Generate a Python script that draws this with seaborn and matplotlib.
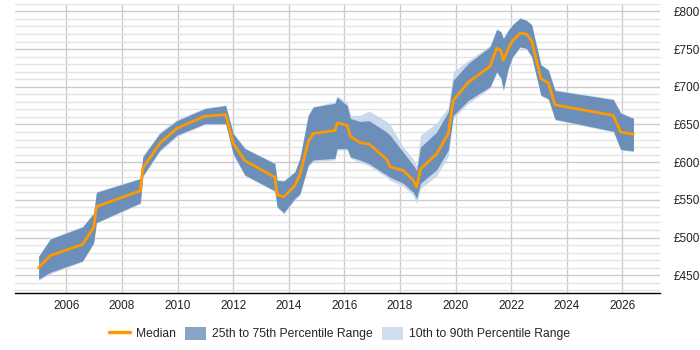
import numpy as np
import pandas as pd
import seaborn as sns
import matplotlib.pyplot as plt
from matplotlib.lines import Line2D
from matplotlib.patches import Patch
from matplotlib.ticker import MultipleLocator, FuncFormatter

# data (decimal years, GBP)
years = [2005.00, 2005.42, 2006.58, 2006.98, 2007.08, 2008.66, 2008.75, 2009.36,
         2009.98, 2010.98, 2011.73, 2012.00, 2012.42, 2013.50, 2013.58, 2013.82,
         2014.22, 2014.40, 2014.70, 2014.88, 2015.66, 2015.74, 2016.10, 2016.22,
         2016.56, 2016.89, 2017.52, 2017.64, 2018.12, 2018.48, 2018.60, 2018.74,
         2019.32, 2019.74, 2019.92, 2020.46, 2021.24, 2021.48, 2021.63, 2021.72,
         2021.90, 2022.05, 2022.32, 2022.55, 2022.74, 2023.07, 2023.34, 2023.58,
         2025.68, 2025.94, 2026.40]
median = [460, 476, 491, 513, 541, 562, 592, 625,
          645, 661, 663, 625, 602, 580, 557, 554,
          569, 583, 627, 638, 642, 652, 649, 634,
          626, 624, 604, 594, 589, 576, 567, 591,
          611, 638, 682, 706, 727, 751, 748, 735,
          751, 761, 771, 770, 761, 711, 705, 676,
          662, 640, 637]
p25 = [445, 454, 469, 493, 520, 546, 582, 616,
       636, 651, 651, 611, 583, 562, 541, 533,
       552, 558, 596, 603, 605, 618, 618, 607,
       603, 598, 583, 580, 572, 560, 552, 572,
       590, 616, 662, 682, 700, 720, 712, 696,
       725, 740, 753, 751, 740, 689, 684, 657,
       641, 617, 615]
p75 = [475, 498, 514, 532, 560, 578, 607, 638,
       655, 671, 675, 638, 618, 598, 576, 575,
       587, 605, 662, 673, 678, 686, 675, 658,
       654, 655, 640, 636, 613, 596, 589, 620,
       640, 667, 709, 731, 753, 776, 773, 764,
       775, 782, 791, 788, 782, 729, 722, 695,
       683, 665, 658]
p10 = [443, 452, 468, 492, 519, 545, 580, 614,
       634, 650, 650, 610, 582, 561, 540, 531,
       550, 556, 594, 601, 603, 616, 616, 605,
       600, 595, 580, 576, 568, 556, 545, 565,
       582, 608, 658, 678, 698, 718, 710, 694,
       723, 738, 752, 750, 739, 688, 683, 656,
       640, 616, 614]
p90 = [476, 499, 515, 533, 561, 579, 609, 640,
       657, 672, 676, 639, 619, 599, 577, 576,
       588, 606, 663, 674, 680, 688, 680, 662,
       662, 668, 654, 650, 620, 604, 595, 636,
       652, 673, 720, 735, 755, 777, 774, 765,
       776, 783, 792, 789, 783, 730, 723, 696,
       684, 666, 659]

df = pd.DataFrame({"year": years, "median": median,
                   "p25": p25, "p75": p75, "p10": p10, "p90": p90})

sns.set_style("whitegrid")
plt.rcParams["font.family"] = ["Liberation Sans", "DejaVu Sans"]

fig = plt.figure(figsize=(7, 3.5), dpi=100)
ax = fig.add_axes([0.021, 0.164, 0.922, 0.825])

orange = "#FF9900"
dark_band = "#6b8fb8"
light_band = "#c9d9eb"

ax.fill_between(df["year"], df["p10"], df["p90"], color=light_band, lw=0, zorder=2)
ax.fill_between(df["year"], df["p25"], df["p75"], color=dark_band, lw=0, zorder=3)
sns.lineplot(data=df, x="year", y="median", color=orange, lw=2, ax=ax, zorder=4)

# axes
ax.set_xlim(2004.14, 2027.36)
ax.set_ylim(427, 810)
ax.set_xticks(range(2006, 2027, 2))
ax.yaxis.tick_right()
ax.yaxis.set_major_locator(MultipleLocator(50))
ax.yaxis.set_minor_locator(MultipleLocator(10))
ax.yaxis.set_major_formatter(FuncFormatter(lambda v, p: f"£{v:.0f}"))
ax.set_xlabel("")
ax.set_ylabel("")

ax.tick_params(axis="both", which="both", length=0, labelsize=8.5, colors="#222222")
ax.tick_params(axis="x", pad=5)
ax.tick_params(axis="y", pad=10)
ax.xaxis.grid(True, which="major", color="#cccccc", lw=1)
ax.yaxis.grid(True, which="major", color="#cccccc", lw=1)
ax.yaxis.grid(True, which="minor", color="#e4e4e4", lw=1)
ax.set_axisbelow(True)
for side in ["left", "right", "top"]:
    ax.spines[side].set_visible(False)
ax.spines["bottom"].set_color("black")
ax.spines["bottom"].set_linewidth(1)

# legend
handles = [Line2D([0], [0], color=orange, lw=2.5),
           Patch(facecolor="#88a4c4", edgecolor="none"),
           Patch(facecolor="#cfdeee", edgecolor="none")]
labels = ["Median", "25th to 75th Percentile Range", "10th to 90th Percentile Range"]
fig.legend(handles, labels, loc="center", bbox_to_anchor=(0.485, 0.047), ncol=3,
           frameon=False, fontsize=8.7, handlelength=1.7, handleheight=1.3,
           columnspacing=0.8, handletextpad=0.5)

fig.savefig("out.png", dpi=100)
